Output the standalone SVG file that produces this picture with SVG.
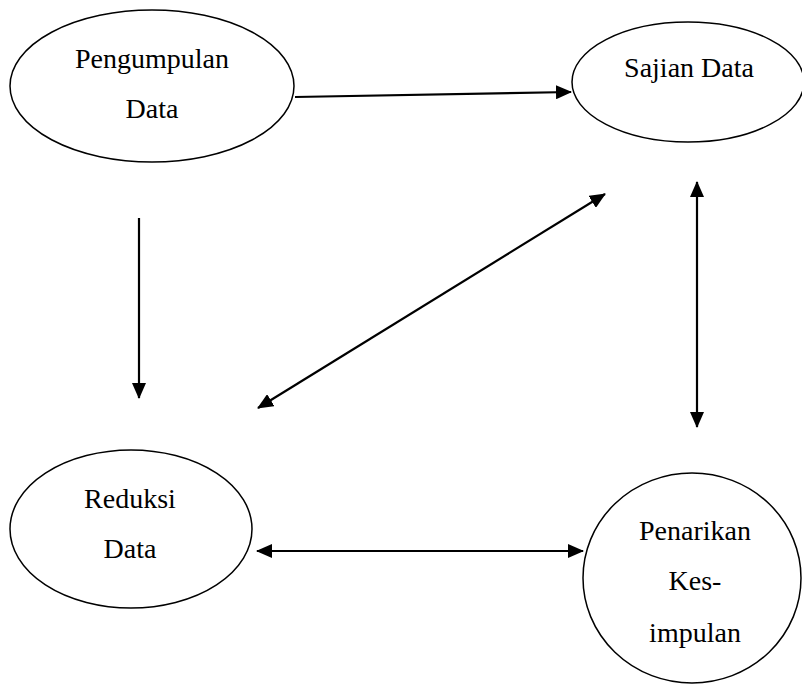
<svg xmlns="http://www.w3.org/2000/svg" width="802" height="685" viewBox="0 0 802 685">
<style>
.node{fill:#fff;stroke:#000;stroke-width:1.5}
.lbl{font-family:"Liberation Serif","Times New Roman",serif;font-size:28px;fill:#000;text-anchor:middle}
.con{stroke:#000;stroke-width:2.2;fill:none}
</style>
<defs>
<marker id="ah" markerUnits="userSpaceOnUse" markerWidth="16" markerHeight="14" refX="15" refY="7" orient="auto-start-reverse">
<path d="M0,0 L16,7 L0,14 Z" fill="#000"/>
</marker>
</defs>
<g id="pengumpulan">
<ellipse class="node" cx="152" cy="86" rx="142" ry="76"/>
<text class="lbl" x="152" y="68">Pengumpulan</text>
<text class="lbl" x="152" y="118">Data</text>
</g>
<g id="sajian">
<ellipse class="node" cx="688" cy="82" rx="116" ry="60"/>
<text class="lbl" x="689" y="77">Sajian Data</text>
</g>
<g id="reduksi">
<ellipse class="node" cx="131" cy="529" rx="121" ry="79"/>
<text class="lbl" x="130" y="508">Reduksi</text>
<text class="lbl" x="130" y="558">Data</text>
</g>
<g id="penarikan">
<ellipse class="node" cx="692" cy="578" rx="109" ry="105"/>
<text class="lbl" x="695" y="540">Penarikan</text>
<text class="lbl" x="695" y="590">Kes-</text>
<text class="lbl" x="695" y="642">impulan</text>
</g>
<g id="connectors">
<line class="con" x1="295" y1="97" x2="571" y2="92" marker-end="url(#ah)"/>
<line class="con" x1="139" y1="218" x2="139" y2="398" marker-end="url(#ah)"/>
<line class="con" x1="258" y1="408" x2="605" y2="194" marker-start="url(#ah)" marker-end="url(#ah)"/>
<line class="con" x1="697" y1="182" x2="697" y2="427" marker-start="url(#ah)" marker-end="url(#ah)"/>
<line class="con" x1="257" y1="551" x2="583" y2="551" marker-start="url(#ah)" marker-end="url(#ah)"/>
</g>
</svg>
